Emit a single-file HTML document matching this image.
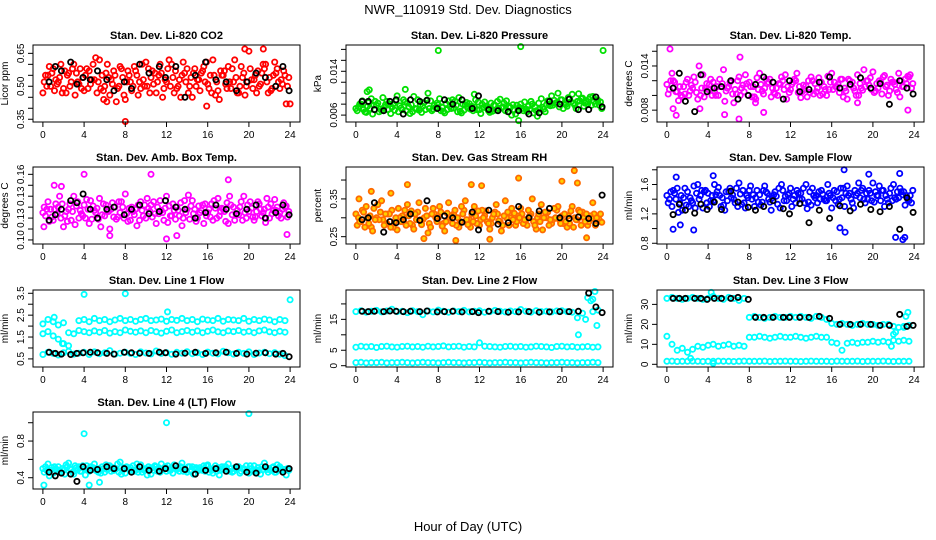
<!DOCTYPE html>
<html><head><meta charset="utf-8"><style>
body{margin:0;background:#fff}
svg{display:block;font-family:"Liberation Sans",Arial,sans-serif}
</style></head><body>
<svg id="chart" width="936" height="540" viewBox="0 0 936 540" xmlns="http://www.w3.org/2000/svg">
<text x="468" y="14" text-anchor="middle" font-size="13">NWR_110919  Std. Dev. Diagnostics</text>
<text x="468" y="531" text-anchor="middle" font-size="13">Hour of Day (UTC)</text>
</svg>
<script>
const blackT=[0.6,1.2,1.8,2.7,3.3,3.9,4.6,5.3,6.2,6.9,7.9,8.6,9.4,10.3,11.3,11.9,12.9,13.8,14.8,15.8,16.8,17.8,18.8,19.8,20.7,21.6,22.6,23.3,23.9];
const xTicks=[0,4,8,12,16,20,24];

const co2A=[0.47,0.55,0.58,0.52,0.49,0.56,0.60,0.51,0.48,0.57,0.53,0.62,0.50,0.46,0.55,0.59,0.44,0.52,0.57,0.49,0.61,0.54,0.47,0.56,0.52,0.60,0.49,0.55,0.58,0.45,0.53,0.57,0.51,0.62,0.48,0.55,0.59,0.52,0.47,0.56,0.66,0.53,0.50,0.58,0.54,0.61,0.49,0.55];
const co2B=[0.52,0.59,0.48,0.54,0.57,0.50,0.46,0.58,0.55,0.51,0.63,0.49,0.56,0.53,0.43,0.58,0.52,0.48,0.55,0.60,0.50,0.57,0.52,0.45,0.58,0.54,0.50,0.61,0.47,0.56,0.53,0.59,0.49,0.55,0.44,0.57,0.52,0.62,0.50,0.46,0.58,0.55,0.51,0.60,0.48,0.56,0.53,0.42];
const co2C=[0.55,0.50,0.53,0.60,0.47,0.52,0.56,0.49,0.58,0.53,0.47,0.55,0.60,0.51,0.49,0.54,0.57,0.50,0.46,0.53,0.58,0.51,0.55,0.49,0.62,0.47,0.53,0.56,0.50,0.58,0.48,0.52,0.55,0.46,0.57,0.51,0.49,0.54,0.59,0.50,0.53,0.47,0.56,0.52,0.49,0.58,0.51,0.50];
const co2D=[0.50,0.56,0.51,0.47,0.55,0.58,0.52,0.54,0.49,0.60,0.52,0.48,0.54,0.57,0.50,0.46,0.55,0.59,0.52,0.50,0.47,0.56,0.60,0.53,0.50,0.57,0.45,0.52,0.54,0.50,0.56,0.61,0.47,0.52,0.55,0.49,0.58,0.47,0.54,0.52,0.49,0.57,0.60,0.47,0.55,0.52,0.57,0.54];
const co2Black=[0.52,0.59,0.57,0.61,0.51,0.54,0.53,0.57,0.53,0.48,0.52,0.49,0.60,0.56,0.59,0.54,0.59,0.45,0.55,0.61,0.53,0.52,0.48,0.52,0.56,0.54,0.50,0.59,0.48];
const co2OutX=[8,15.9,24,19.6,21.4,6.2,5.9];
const co2OutY=[0.34,0.41,0.42,0.67,0.67,0.43,0.44];

const presA=[.0072,.0080,.0065,.0090,.0078,.0068,.0085,.0074,.0095,.0070,.0082,.0066,.0088,.0076,.0100,.0071,.0079,.0067,.0086,.0073,.0092,.0069,.0081,.0075,.0070,.0084,.0065,.0078,.0089,.0068,.0074,.0062,.0080,.0071,.0085,.0068,.0090,.0079,.0095,.0083,.0088,.0076,.0098,.0085,.0091,.0080,.0094,.0087];
const presB=[.0068,.0086,.0076,.0062,.0082,.0092,.0070,.0080,.0066,.0088,.0075,.0094,.0069,.0083,.0072,.0078,.0090,.0064,.0076,.0085,.0067,.0079,.0071,.0088,.0063,.0076,.0082,.0069,.0073,.0086,.0060,.0078,.0072,.0066,.0080,.0058,.0074,.0086,.0078,.0100,.0072,.0092,.0082,.0099,.0076,.0089,.0085,.0078];
const presC=[.0075,.0070,.0083,.0078,.0066,.0074,.0080,.0069,.0077,.0084,.0063,.0072,.0079,.0070,.0086,.0074,.0068,.0081,.0072,.0078,.0064,.0083,.0076,.0070,.0080,.0072,.0067,.0085,.0075,.0066,.0079,.0070,.0068,.0076,.0064,.0082,.0071,.0080,.0087,.0075,.0081,.0090,.0078,.0086,.0082,.0093,.0080,.0084];
const presD=[.0080,.0066,.0072,.0085,.0071,.0079,.0063,.0086,.0073,.0068,.0079,.0071,.0065,.0087,.0068,.0082,.0074,.0070,.0088,.0066,.0080,.0073,.0068,.0084,.0074,.0068,.0078,.0072,.0082,.0076,.0069,.0074,.0084,.0070,.0075,.0071,.0066,.0077,.0082,.0088,.0079,.0084,.0072,.0090,.0085,.0078,.0088,.0072];
const presBlack=[.0085,.0085,.0070,.0068,.0085,.0088,.0062,.0088,.0085,.0087,.0072,.0088,.0080,.0088,.0072,.0095,.0070,.0068,.0066,.0068,.0062,.0064,.0085,.0080,.0089,.0070,.0070,.0093,.0075];
const presOutX=[1.1,1.3,4.8,8,16,24,11.5,15.8];
const presOutY=[.0103,.0106,.0107,.0178,.0185,.0178,.0098,.0050];

const tempA=[.0115,.0130,.0105,.0098,.0122,.0110,.0095,.0128,.0108,.0118,.0100,.0135,.0112,.0090,.0125,.0105,.0118,.0098,.0130,.0110,.0122,.0102,.0115,.0128,.0108,.0120,.0097,.0113,.0125,.0105,.0118,.0100,.0130,.0112,.0122,.0095,.0118,.0128,.0107,.0120,.0132,.0110,.0125,.0100,.0118,.0130,.0112,.0125];
const tempB=[.0102,.0120,.0093,.0112,.0100,.0125,.0140,.0098,.0115,.0105,.0122,.0092,.0118,.0108,.0100,.0128,.0112,.0095,.0115,.0122,.0098,.0110,.0125,.0095,.0115,.0130,.0105,.0098,.0120,.0110,.0102,.0126,.0108,.0115,.0098,.0122,.0110,.0100,.0135,.0114,.0104,.0120,.0127,.0106,.0115,.0098,.0122,.0128];
const tempC=[.0108,.0118,.0112,.0102,.0106,.0118,.0100,.0110,.0122,.0100,.0112,.0106,.0120,.0102,.0110,.0116,.0098,.0124,.0106,.0116,.0110,.0100,.0120,.0112,.0118,.0104,.0114,.0120,.0102,.0124,.0112,.0108,.0118,.0104,.0110,.0120,.0106,.0116,.0112,.0124,.0106,.0118,.0112,.0122,.0108,.0120,.0116,.0110];
const tempD=[.0120,.0105,.0100,.0118,.0114,.0104,.0110,.0116,.0100,.0112,.0116,.0110,.0102,.0120,.0114,.0100,.0112,.0108,.0102,.0118,.0104,.0116,.0108,.0104,.0122,.0112,.0108,.0104,.0116,.0100,.0108,.0118,.0112,.0122,.0106,.0114,.0100,.0110,.0120,.0108,.0116,.0102,.0114,.0118,.0104,.0112,.0126,.0116];
const tempBlack=[.0110,.0130,.0092,.0078,.0128,.0105,.0110,.0112,.0120,.0095,.0100,.0115,.0125,.0118,.0095,.0120,.0105,.0108,.0118,.0125,.0110,.0115,.0124,.0110,.0116,.0088,.0120,.0110,.0102];
const tempOutX=[0.3,0.6,0.9,3.2,5.6,7,7.1,9.4,23.4,8.6,18.5];
const tempOutY=[.0163,.0082,.0073,.0082,.0074,.0068,.0152,.0077,.0080,.0090,.0090];

const ambA=[.125,.135,.118,.130,.112,.128,.140,.120,.132,.115,.127,.138,.122,.110,.130,.125,.142,.118,.128,.135,.120,.132,.115,.127,.140,.122,.130,.113,.128,.136,.120,.132,.125,.118,.138,.128,.115,.130,.123,.140,.126,.118,.133,.128,.120,.137,.125,.130];
const ambB=[.130,.117,.128,.140,.122,.133,.114,.127,.120,.136,.125,.112,.132,.128,.119,.135,.124,.130,.113,.127,.138,.121,.130,.125,.116,.133,.127,.120,.141,.124,.131,.115,.128,.136,.122,.126,.140,.118,.130,.125,.135,.121,.128,.116,.133,.127,.120,.131];
const ambC=[.122,.128,.133,.120,.126,.118,.131,.124,.137,.119,.129,.123,.127,.134,.121,.130,.117,.126,.132,.122,.129,.135,.124,.118,.131,.127,.122,.136,.119,.128,.125,.133,.121,.129,.126,.117,.132,.124,.135,.120,.129,.126,.122,.138,.124,.130,.128,.121];
const ambD=[.128,.121,.124,.133,.117,.126,.135,.122,.128,.131,.119,.133,.126,.121,.135,.120,.129,.123,.118,.132,.126,.124,.136,.129,.122,.119,.134,.125,.131,.117,.127,.122,.133,.120,.129,.134,.123,.127,.118,.132,.121,.135,.125,.130,.127,.122,.134,.126];
const ambBlack=[.118,.123,.128,.136,.134,.142,.128,.120,.128,.130,.123,.128,.132,.124,.126,.136,.130,.128,.120,.125,.132,.128,.124,.128,.132,.120,.125,.132,.123];
const ambOutX=[0.1,1.1,1.8,4,6.5,13,10.5,18,12,23.7];
const ambOutY=[.112,.150,.149,.160,.104,.104,.160,.155,.101,.105];

const rhA=[.310,.290,.330,.275,.300,.345,.285,.320,.268,.305,.335,.280,.315,.295,.260,.325,.300,.285,.340,.310,.275,.320,.295,.330,.280,.305,.270,.315,.290,.345,.300,.280,.325,.295,.310,.270,.335,.300,.285,.320,.305,.275,.330,.295,.315,.280,.340,.300];
const rhB=[.280,.320,.300,.265,.335,.295,.310,.275,.325,.290,.305,.270,.340,.300,.285,.310,.330,.265,.300,.320,.290,.345,.275,.305,.295,.318,.285,.335,.265,.300,.325,.290,.310,.280,.350,.300,.268,.315,.295,.330,.285,.305,.275,.320,.300,.290,.310,.295];
const rhC=[.300,.315,.285,.325,.295,.280,.310,.290,.300,.320,.285,.310,.295,.325,.275,.300,.315,.290,.305,.280,.330,.295,.310,.285,.320,.290,.300,.310,.280,.315,.295,.305,.285,.320,.290,.310,.300,.280,.325,.295,.310,.285,.300,.315,.290,.305,.280,.310];
const rhD=[.290,.275,.305,.295,.315,.310,.275,.300,.290,.280,.318,.295,.282,.305,.310,.290,.278,.312,.285,.300,.310,.282,.290,.318,.300,.285,.310,.292,.305,.280,.312,.300,.295,.305,.280,.290,.315,.295,.300,.285,.290,.318,.295,.280,.310,.298,.300,.288];
const rhBlack=[.295,.300,.340,.262,.290,.287,.295,.310,.293,.345,.298,.305,.300,.288,.315,.268,.320,.283,.287,.330,.300,.318,.325,.300,.298,.302,.298,.285,.360];
const rhOutX=[5,11.2,12.2,15.8,20,21.2,21.5,6.6,9.7,13,22.4,0.3,1.5,3.4];
const rhOutY=[.388,.388,.385,.405,.397,.425,.392,.245,.240,.243,.247,.350,.370,.365];

const sfA=[1.45,1.30,1.55,1.25,1.50,1.35,1.60,1.28,1.48,1.38,1.56,1.32,1.50,1.40,1.62,1.35,1.52,1.30,1.46,1.58,1.36,1.50,1.28,1.44,1.55,1.35,1.48,1.60,1.32,1.45,1.52,1.38,1.28,1.50,1.42,1.58,1.35,1.48,1.55,1.40,1.62,1.45,1.52,1.35,1.60,1.42,1.50,1.38];
const sfB=[1.35,1.52,1.22,1.42,1.30,1.58,1.40,1.50,1.30,1.60,1.45,1.25,1.55,1.35,1.47,1.28,1.58,1.42,1.32,1.50,1.25,1.44,1.60,1.38,1.30,1.52,1.40,1.27,1.55,1.35,1.47,1.60,1.42,1.33,1.55,1.45,1.28,1.62,1.40,1.52,1.36,1.58,1.30,1.48,1.42,1.55,1.32,1.45];
const sfC=[1.40,1.48,1.35,1.55,1.42,1.28,1.45,1.52,1.38,1.46,1.30,1.50,1.42,1.55,1.33,1.45,1.40,1.52,1.36,1.48,1.42,1.33,1.52,1.46,1.40,1.48,1.55,1.36,1.45,1.50,1.40,1.48,1.52,1.40,1.30,1.48,1.52,1.42,1.35,1.48,1.50,1.38,1.45,1.55,1.40,1.50,1.45,1.35];
const sfD=[1.50,1.40,1.45,1.32,1.38,1.48,1.52,1.35,1.45,1.50,1.42,1.38,1.46,1.30,1.52,1.42,1.46,1.36,1.52,1.40,1.46,1.55,1.38,1.48,1.45,1.40,1.35,1.50,1.42,1.40,1.38,1.45,1.38,1.55,1.48,1.40,1.45,1.52,1.48,1.38,1.45,1.52,1.40,1.38,1.50,1.46,1.40,1.52];
const sfBlack=[1.19,1.33,1.25,1.21,1.33,1.26,1.36,1.26,1.51,1.36,1.29,1.25,1.30,1.38,1.27,1.20,1.34,1.08,1.25,1.14,1.31,1.24,1.33,1.26,1.23,1.30,0.99,1.42,1.22];
const sfOutX=[0.6,0.9,2.6,4.5,17.2,16.8,17.3,19.6,22.2,22.9,23.1,22.6,1.3];
const sfOutY=[0.99,1.70,0.98,1.72,1.80,1.01,0.95,1.74,0.88,0.85,0.88,1.75,1.05];

const l1A=[0.70,0.80,0.75,0.68,0.78,0.85,0.72,0.76,0.80,0.70,0.82,0.74,0.78,0.88,0.72,0.76,0.80,0.75,0.70,0.82,0.77,0.73,0.86,0.75,0.79,0.71,0.80,0.76,0.83,0.74,0.78,0.70,0.81,0.76,0.73,0.85,0.78,0.72,0.80,0.75,0.82,0.70,0.77,0.80,0.74,0.79,0.72,0.65];
const l1B=[1.65,1.75,1.55,1.40,1.20,1.70,1.65,1.80,1.75,1.70,1.78,1.72,1.80,1.68,1.75,1.70,1.82,1.76,1.72,1.78,1.70,1.80,1.74,1.68,1.76,1.82,1.70,1.75,1.80,1.72,1.78,1.70,1.76,1.82,1.74,1.70,1.78,1.75,1.80,1.72,1.76,1.70,1.78,1.82,1.74,1.70,1.76,1.72];
const l1C=[2.10,2.30,2.20,2.05,2.15,null,null,2.25,2.30,2.20,2.35,2.25,2.30,2.20,2.28,2.35,2.25,2.30,2.22,2.30,2.35,2.25,2.28,2.32,2.22,2.30,2.26,2.35,2.25,2.30,2.20,2.32,2.28,2.25,2.35,2.22,2.30,2.28,2.25,2.35,2.22,2.30,2.25,2.32,2.28,2.20,2.30,2.25];
const l1Black=[0.80,0.75,0.72,0.70,0.75,0.78,0.80,0.78,0.75,0.72,0.80,0.78,0.76,0.75,0.80,0.78,0.72,0.76,0.80,0.75,0.78,0.80,0.75,0.72,0.76,0.78,0.72,0.75,0.60];
const l1OutX=[4,8,24,12.1,1.1,2.5,1.9];
const l1OutY=[3.45,3.48,3.2,2.65,2.4,1.1,1.2];

const l2A=[17.5,17.8,17.3,17.6,17.9,17.4,17.7,18.3,17.5,17.6,17.2,17.8,17.5,16.5,17.7,17.4,18.0,17.6,17.3,17.7,17.5,17.9,17.4,17.6,17.8,17.3,17.5,17.9,17.6,17.4,17.7,17.5,18.2,17.6,17.3,17.8,17.5,17.6,17.4,17.7,17.8,17.5,17.3,15.5,17.0,22.0,17.5,18.0];
const l2B=[6.0,6.3,6.1,6.2,5.9,6.2,6.3,6.1,6.0,6.2,6.3,6.1,6.2,6.0,6.3,6.1,6.2,6.4,6.1,6.2,6.3,6.0,6.2,6.1,7.4,6.3,6.2,6.1,6.0,6.2,6.3,6.1,6.2,6.0,6.1,6.3,6.2,6.1,5.9,6.2,6.3,6.1,6.2,6.0,6.1,6.2,6.0,6.1];
const l2C=[1.0,1.1,0.9,1.0,1.0,1.1,0.9,1.0,1.0,1.1,1.0,0.9,1.0,1.1,1.0,1.0,0.9,1.0,1.1,1.0,1.0,0.9,1.0,1.0,1.1,1.0,0.9,1.0,1.0,1.1,1.0,1.0,0.9,1.0,1.1,1.0,1.0,0.9,1.0,1.0,1.1,1.0,1.0,0.9,1.0,1.0,1.1,1.0];
const l2Black=[17.6,17.5,17.6,17.5,17.7,17.6,17.5,17.6,17.5,17.7,17.4,17.5,17.6,17.4,17.5,17.2,17.6,17.5,17.3,17.4,17.5,17.3,17.4,17.5,17.5,17.6,23.5,19.0,17.2];
const l2OutX=[21.6,22.3,23.2,23.4,22.8,23];
const l2OutY=[10,15,24,13,21,21.5];

const l3A=[33,33.5,33,32.5,33,33.5,33,32.5,33,34,33,32.5,33.5,33,32,33,23.5,24,23.5,23,23.5,24,23.5,23.5,24,23.5,24,23.5,23,24,23.5,22.5,20.5,20,20.5,20,19.5,20,20.5,20,20,19.5,20,20,19,18.5,18.5,19.5];
const l3B=[14,10,7,8,6,7.5,9,8.5,9.5,10,9,9.5,10,9,9.5,9,13.5,13.5,14,13.5,13,13.5,14,13.5,13.5,14,13.5,13,13.5,14,13.5,13.5,11,10.5,7,10.5,11,10.5,11,11,11.5,11,11.5,11,12,11.5,12,11.5];
const l3C=[1.5,1.6,1.4,1.5,1.5,1.6,1.5,1.4,1.5,1.5,1.6,1.5,1.5,1.4,1.5,1.6,1.5,1.5,1.5,1.6,1.4,1.5,1.5,1.6,1.5,1.5,1.4,1.5,1.6,1.5,1.5,1.5,1.4,1.6,1.5,1.5,1.5,1.6,1.4,1.5,1.5,1.5,1.6,1.5,1.4,1.5,1.5,1.5];
const l3Black=[33,33,33,33,33,32.5,33,33,33,33.5,32.5,23.5,23.5,23.5,23.5,23.5,23.5,23.5,24,23,20,20,20,20,19.5,19.5,25,19,19.5];
const l3OutX=[4.3,22,22.2,21.8,23.2,23.4,2.3,4.5,23];
const l3OutY=[36,15,16,9,24,26,3,0.5,19];

const l4A=[0.50,0.55,0.45,0.52,0.48,0.56,0.44,0.52,0.50,0.47,0.55,0.50,0.46,0.53,0.49,0.57,0.45,0.51,0.48,0.54,0.50,0.44,0.52,0.55,0.47,0.51,0.49,0.56,0.46,0.52,0.50,0.48,0.54,0.45,0.51,0.49,0.55,0.47,0.52,0.50,0.45,0.53,0.48,0.56,0.50,0.46,0.52,0.49];
const l4B=[0.46,0.42,0.52,0.48,0.44,0.50,0.53,0.47,0.43,0.52,0.48,0.45,0.54,0.47,0.50,0.44,0.52,0.48,0.55,0.46,0.43,0.51,0.47,0.49,0.53,0.45,0.50,0.47,0.52,0.44,0.48,0.53,0.46,0.50,0.43,0.52,0.47,0.51,0.45,0.49,0.53,0.47,0.44,0.51,0.48,0.46,0.50,0.43];
const l4C=[0.52,0.48,0.50,0.46,0.54,0.49,0.51,0.47,0.53,0.50,0.48,0.52,0.49,0.51,0.55,0.48,0.50,0.53,0.46,0.50,0.52,0.48,0.51,0.50,0.49,0.54,0.47,0.50,0.52,0.49,0.51,0.47,0.50,0.53,0.48,0.52,0.50,0.49,0.47,0.53,0.50,0.48,0.52,0.49,0.51,0.54,0.48,0.50];
const l4D=[0.48,0.51,0.47,0.50,0.52,0.46,0.49,0.53,0.48,0.51,0.46,0.50,0.53,0.48,0.46,0.51,0.49,0.47,0.52,0.48,0.50,0.53,0.46,0.52,0.48,0.50,0.52,0.48,0.47,0.51,0.49,0.53,0.48,0.47,0.52,0.49,0.46,0.51,0.50,0.48,0.47,0.51,0.49,0.46,0.52,0.50,0.49,0.48];
const l4Black=[0.46,0.42,0.45,0.44,0.36,0.52,0.48,0.49,0.52,0.50,0.50,0.46,0.52,0.48,0.47,0.50,0.53,0.49,0.44,0.48,0.50,0.47,0.52,0.46,0.45,0.52,0.49,0.46,0.50];
const l4OutX=[4,12,20,0.1,4.5,5.5];
const l4OutY=[0.88,1.0,1.1,0.32,0.32,0.35];

const colL=[33,346,657], rowT=[45,167,290,412], BW=267, BH=77;
const panels=[
 {id:'co2',title:'Stan. Dev. Li-820 CO2',ylab:'Licor ppm',c:0,r:0,ymin:0.3375,ymax:0.688,ticks:[0.35,0.40,0.45,0.50,0.55,0.60,0.65],labs:{0:'0.35',3:'0.50',6:'0.65'},col:'#ff0000',ser:[co2A,co2B,co2C,co2D],blk:co2Black,ox:co2OutX,oy:co2OutY},
 {id:'pressure',title:'Stan. Dev. Li-820 Pressure',ylab:'kPa',c:1,r:0,ymin:0.00474,ymax:0.0188,ticks:[0.006,0.008,0.010,0.012,0.014,0.016,0.018],labs:{0:'0.006',4:'0.014'},col:'#00e000',ser:[presA,presB,presC,presD],blk:presBlack,ox:presOutX,oy:presOutY},
 {id:'temp',title:'Stan. Dev. Li-820 Temp.',ylab:'degrees C',c:2,r:0,ymin:0.00639,ymax:0.01685,ticks:[0.008,0.010,0.012,0.014,0.016],labs:{0:'0.008',3:'0.014'},col:'#ff00ff',ser:[tempA,tempB,tempC,tempD],blk:tempBlack,ox:tempOutX,oy:tempOutY},
 {id:'ambbox',title:'Stan. Dev. Amb. Box Temp.',ylab:'degrees C',c:0,r:1,ymin:0.0963,ymax:0.1667,ticks:[0.10,0.11,0.12,0.13,0.14,0.15,0.16],labs:{0:'0.10',2:'0.13',4:'0.13',6:'0.16'},col:'#ff00ff',ser:[ambA,ambB,ambC,ambD],blk:ambBlack,ox:ambOutX,oy:ambOutY},
 {id:'rh',title:'Stan. Dev. Gas Stream RH',ylab:'percent',c:1,r:1,ymin:0.2306,ymax:0.4345,ticks:[0.25,0.30,0.35,0.40],labs:{0:'0.25',2:'0.35'},col:'#ff6a00',fill:'#ffd000',ser:[rhA,rhB,rhC,rhD],blk:rhBlack,ox:rhOutX,oy:rhOutY},
 {id:'sampleflow',title:'Stan. Dev. Sample Flow',ylab:'ml/min',c:2,r:1,ymin:0.79,ymax:1.838,ticks:[0.8,1.0,1.2,1.4,1.6,1.8],labs:{0:'0.8',2:'1.2',4:'1.6'},col:'#0000ff',ser:[sfA,sfB,sfC,sfD],blk:sfBlack,ox:sfOutX,oy:sfOutY},
 {id:'line1',title:'Stan. Dev. Line 1 Flow',ylab:'ml/min',c:0,r:2,ymin:0.13,ymax:3.65,ticks:[0.5,1.0,1.5,2.0,2.5,3.0,3.5],labs:{0:'0.5',2:'1.5',4:'2.5',6:'3.5'},col:'#00ffff',ser:[l1A,l1B,l1C],blk:l1Black,ox:l1OutX,oy:l1OutY,band:true},
 {id:'line2',title:'Stan. Dev. Line 2 Flow',ylab:'ml/min',c:1,r:2,ymin:-0.42,ymax:24.5,ticks:[0,5,10,15,20],labs:{0:'0',1:'5',3:'15'},col:'#00ffff',ser:[l2A,l2B,l2C],blk:l2Black,ox:l2OutX,oy:l2OutY,band:true},
 {id:'line3',title:'Stan. Dev. Line 3 Flow',ylab:'ml/min',c:2,r:2,ymin:-1.35,ymax:37.2,ticks:[0,10,20,30],labs:{0:'0',1:'10',2:'20',3:'30'},col:'#00ffff',ser:[l3A,l3B,l3C],blk:l3Black,ox:l3OutX,oy:l3OutY,band:true},
 {id:'line4',title:'Stan. Dev. Line 4 (LT) Flow',ylab:'ml/min',c:0,r:3,ymin:0.277,ymax:1.117,ticks:[0.4,0.6,0.8,1.0],labs:{0:'0.4',2:'0.8'},col:'#00ffff',ser:[l4A,l4B,l4C,l4D],blk:l4Black,ox:l4OutX,oy:l4OutY}
];
const NS='http://www.w3.org/2000/svg';
const svg=document.getElementById('chart');
function mk(tag,attrs,parent){const e=document.createElementNS(NS,tag);for(const k in attrs)e.setAttribute(k,attrs[k]);parent.appendChild(e);return e;}
panels.forEach(p=>{
 const L=colL[p.c],T=rowT[p.r];
 const xs=v=>L+(v+0.96)/25.92*BW;
 const ys=v=>T+BH-(v-p.ymin)/(p.ymax-p.ymin)*BH;
 const g=mk('g',{},svg);
 
 
 const t=mk('text',{x:L+BW/2,y:T-6,'text-anchor':'middle','font-size':'11','font-weight':'bold'},g);
 t.textContent=p.title;
 
 
 const pts=mk('g',{},g);
 
 
 function dot(x,y,stroke,fill){
  if(y===null)return;
  const c=mk('circle',{cx:xs(x).toFixed(1),cy:ys(y).toFixed(1),r:2.6,fill:fill||'none',stroke:stroke,'stroke-width':1.8},pts);
  
  
 }
 const n=p.ser.length;
 p.ser.forEach((arr,si)=>arr.forEach((v,i)=>dot(i*0.5+(p.band?0:si*0.5/n),v,p.col,p.fill)));
 p.ox.forEach((x,i)=>dot(x,p.oy[i],p.col,p.fill));
 p.blk.forEach((v,i)=>dot(blackT[i],v,'#000'));
 const box=mk('rect',{x:L,y:T,width:BW,height:BH,fill:'none',stroke:'#000','stroke-width':1},g);
 
 
 const xa=mk('g',{},g);
 
 
 xTicks.forEach(v=>{
  mk('line',{x1:xs(v),x2:xs(v),y1:T+BH,y2:T+BH+5,stroke:'#000'},xa);
  const lt=mk('text',{x:xs(v),y:T+BH+16,'text-anchor':'middle','font-size':'10'},xa);
  lt.textContent=v;
 });
 const ya=mk('g',{},g);
 
 
 p.ticks.forEach((v,i)=>{
  mk('line',{x1:L-5,x2:L,y1:ys(v),y2:ys(v),stroke:'#000'},ya);
  if(p.labs[i]!==undefined){
   const lx=L-9,ly=ys(v);
   const lt=mk('text',{x:lx,y:ly,'text-anchor':'middle','font-size':'10',transform:`rotate(-90 ${lx} ${ly})`},ya);
   lt.textContent=p.labs[i];
  }
 });
 const yl=L-25,yy=T+BH/2;
 const yt=mk('text',{x:yl,y:yy,'text-anchor':'middle','font-size':'10',transform:`rotate(-90 ${yl} ${yy})`},g);
 yt.textContent=p.ylab;
 
 
});
</script>
</body></html>
